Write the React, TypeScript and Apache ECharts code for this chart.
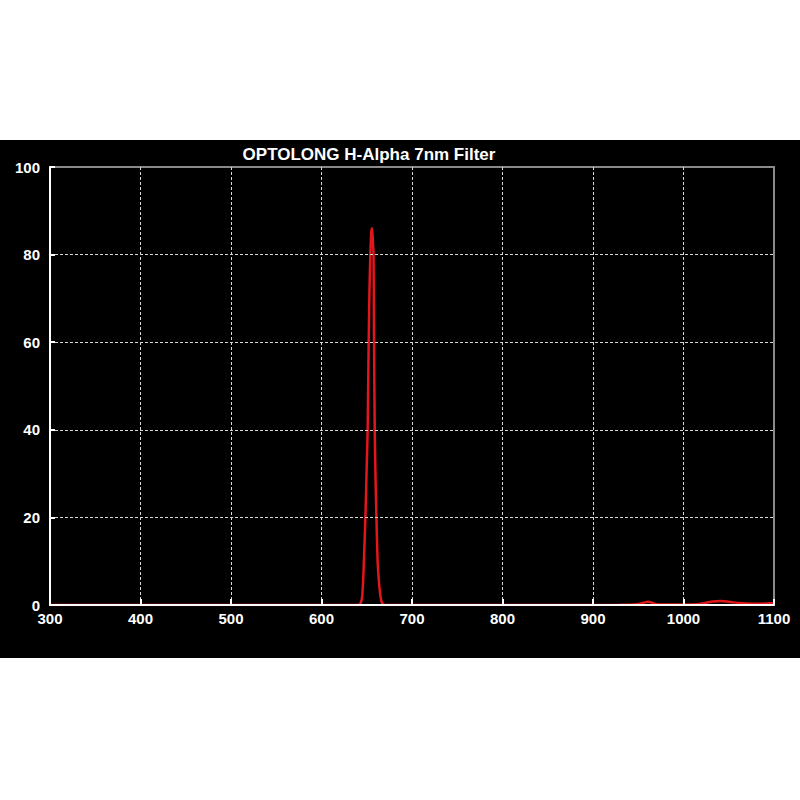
import { useEffect, useRef } from 'react';
import * as echarts from 'echarts';

// wavelength (nm) and transmission (%)
const wavelengths = [
  300, 400, 500, 600, 640, 643, 645, 646.5, 648.5, 650, 651, 652, 653, 654, 655, 655.8,
  656.5, 657.5, 658, 658.8, 659.8, 660.7, 662, 664, 666, 668, 672, 750, 850, 930, 945,
  952, 957, 961, 965, 970, 980, 1000, 1015, 1025, 1032, 1041, 1048, 1055, 1065, 1075,
  1085, 1092, 1100,
];
const transmission = [
  0, 0, 0, 0, 0, 0.3, 2, 8, 20, 32, 40, 58, 72, 80, 85, 86,
  84, 80, 62, 40, 28, 20, 10, 4, 1, 0.2, 0, 0, 0, 0.05, 0.1,
  0.3, 0.6, 0.75, 0.55, 0.2, 0.1, 0.1, 0.2, 0.5, 0.8, 0.9, 0.8, 0.6, 0.4, 0.3,
  0.3, 0.35, 0.4,
];

const xTicks = [300, 400, 500, 600, 700, 800, 900, 1000, 1100];
const yTicks = [0, 20, 40, 60, 80, 100];

const title = 'OPTOLONG H-Alpha 7nm Filter';

const labelFont = {
  color: '#ffffff',
  fontFamily: 'Liberation Sans, Arial, sans-serif',
  fontWeight: 'bold' as const,
  fontSize: 15,
};

export default function App() {
  const chartRef = useRef<HTMLDivElement>(null);

  useEffect(() => {
    if (!chartRef.current) return;
    const chart = echarts.init(chartRef.current, null, { renderer: 'svg' });

    const option: echarts.EChartsOption = {
      animation: false,
      backgroundColor: '#ffffff',
      graphic: [
        {
          type: 'rect',
          z: -10,
          silent: true,
          shape: { x: 0, y: 140, width: 800, height: 518 },
          style: { fill: '#000000' },
        },
        {
          type: 'text',
          x: 369,
          y: 154,
          style: {
            text: title,
            fill: '#ffffff',
            font: 'bold 17px "Liberation Sans", Arial, sans-serif',
            align: 'center',
            verticalAlign: 'middle',
          },
        },
      ],
      grid: {
        left: 50,
        right: 26,
        top: 167,
        bottom: 195,
        show: true,
        borderColor: '#8a8a8a',
        borderWidth: 2,
        backgroundColor: 'transparent',
      },
      xAxis: {
        type: 'value',
        z: 5,
        min: xTicks[0],
        max: xTicks[xTicks.length - 1],
        interval: 100,
        axisLine: { show: true, onZero: false, lineStyle: { color: '#ffffff', width: 2 } },
        axisTick: { show: true, inside: true, length: 6, lineStyle: { color: '#ffffff', width: 2 } },
        axisLabel: { ...labelFont, margin: 6, formatter: (v: number) => String(v) },
        splitLine: {
          show: true,
          showMinLine: false,
          showMaxLine: false,
          lineStyle: { color: '#d8d8d8', type: [3, 2], width: 1 },
        },
      },
      yAxis: {
        type: 'value',
        z: 5,
        min: yTicks[0],
        max: yTicks[yTicks.length - 1],
        interval: 20,
        axisLine: { show: true, onZero: false, lineStyle: { color: '#ffffff', width: 2 } },
        axisTick: { show: true, inside: true, length: 5, lineStyle: { color: '#ffffff', width: 2 } },
        axisLabel: { ...labelFont, margin: 10, formatter: (v: number) => String(v) },
        splitLine: {
          show: true,
          showMinLine: false,
          showMaxLine: false,
          lineStyle: { color: '#d8d8d8', type: [3, 2], width: 1 },
        },
      },
      series: [
        {
          type: 'line',
          z: 2,
          showSymbol: false,
          smooth: 0.2,
          clip: true,
          lineStyle: { color: '#e3161c', width: 2.5 },
          data: wavelengths.map((w, i) => [w, transmission[i]]),
        },
      ],
    };

    chart.setOption(option);
    return () => chart.dispose();
  }, []);

  return (
    <div
      ref={chartRef}
      style={{ position: 'fixed', left: 0, top: 0, width: 800, height: 800 }}
    />
  );
}
